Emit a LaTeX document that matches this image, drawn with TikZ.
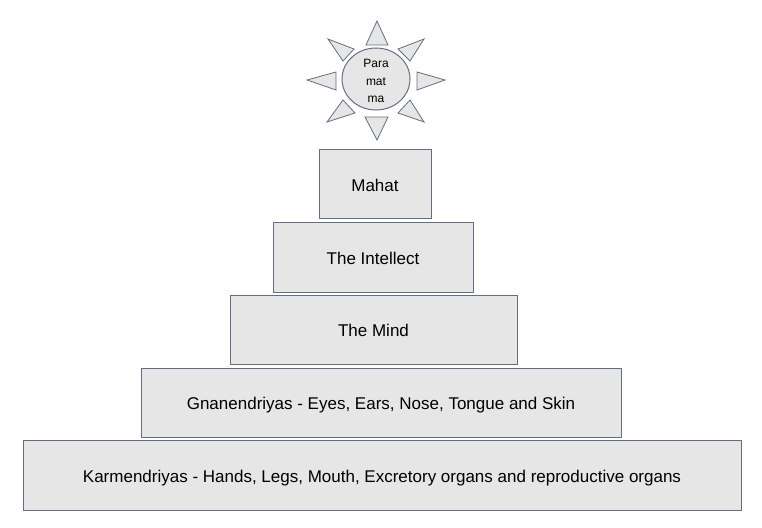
\documentclass[tikz,border=0pt]{standalone}
\usepackage{fontspec}
\setmainfont{Liberation Sans}
\usetikzlibrary{shapes.geometric}
\definecolor{boxfill}{RGB}{230,230,230}
\definecolor{boxline}{RGB}{100,110,130}
\begin{document}
\begin{tikzpicture}[x=1pt,y=-1pt,
  level/.style={draw=boxline,fill=boxfill,line width=1pt,font=\fontsize{17}{20}\selectfont,inner sep=0pt,text height=17pt,text depth=3pt},
  ray/.style={draw=boxline,fill=boxfill,line width=0.8pt,line join=miter},
  suntext/.style={font=\fontsize{12}{17.5}\selectfont,align=center}]
\useasboundingbox (0,0) rectangle (762,527);
% levels
\node[level,minimum width=112pt,minimum height=69pt] (mahat) at (375,184) {Mahat};
\node[level,minimum width=200pt,minimum height=70pt] (intellect) at (373,257) {The Intellect};
\node[level,minimum width=287pt,minimum height=69pt] (mind) at (373.5,329.5) {The Mind};
\node[level,minimum width=480pt,minimum height=69pt] (gnan) at (381,402.5) {Gnanendriyas - Eyes, Ears, Nose, Tongue and Skin};
\node[level,minimum width=718pt,minimum height=70pt] (karm) at (382,475) {Karmendriyas - Hands, Legs, Mouth, Excretory organs and reproductive organs};
% sun rays
\path[ray] (377,21) -- (388,45) -- (366,45) -- cycle;
\path[ray] (377,140) -- (388,117) -- (365,117) -- cycle;
\path[ray] (307,80) -- (336,72) -- (336,90) -- cycle;
\path[ray] (445,80) -- (417,72) -- (417,90) -- cycle;
\path[ray] (328,39) -- (354,49) -- (343,61) -- cycle;
\path[ray] (424,39) -- (398,49) -- (410,61) -- cycle;
\path[ray] (327,122) -- (343,100) -- (355,113) -- cycle;
\path[ray] (424,122) -- (410,100) -- (398,113) -- cycle;
% sun
\node[ellipse,draw=boxline,fill=boxfill,line width=1pt,minimum width=68pt,minimum height=62pt,inner sep=0pt] (sun) at (376,79) {};
\node[suntext] (sunlabel) at ([yshift=-2pt]sun.center) {Para\\mat\\ma};
\end{tikzpicture}
\end{document}
